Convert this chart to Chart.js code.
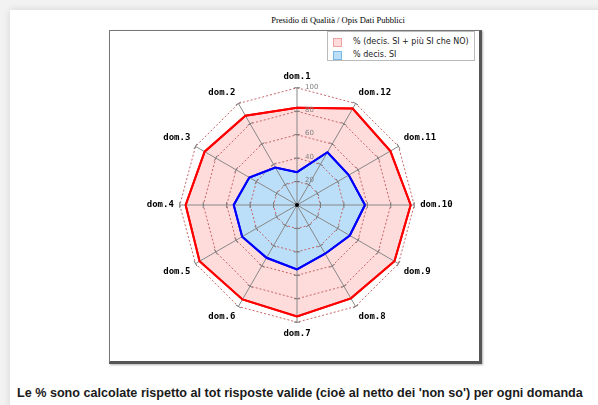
<!DOCTYPE html>
<html>
<head>
<meta charset="utf-8">
<script src="https://cdn.jsdelivr.net/npm/chart.js@4.4.0/dist/chart.umd.min.js"></script>
<style>
    html, body { margin: 0; padding: 0; }
    body {
        width: 598px; height: 405px; overflow: hidden; position: relative;
        background: #f2f2f2; font-family: 'DejaVu Sans', sans-serif;
    }
    #panel {
        position: absolute; left: 10px; top: 10px; width: 640px; height: 440px;
        background: #fff; box-shadow: 0 0 7px rgba(0, 0, 0, 0.13);
    }
    #title {
        position: absolute; left: 200px; width: 276px; top: 15px; text-align: center;
        font: 8.5px 'Liberation Serif', serif; color: #000; white-space: nowrap;
    }
    #frame {
        position: absolute; left: 109px; top: 30px; width: 369px; height: 330px;
        border: 1px solid #777; border-right: 3px solid #555; border-bottom: 3px solid #555;
        box-shadow: 1px 1px 2px rgba(0, 0, 0, 0.3); background: #fff;
    }
    #chartWrap { position: absolute; left: 112px; top: 72px; width: 370px; height: 268px; }
    #legend {
        position: absolute; left: 327px; top: 31px; width: 146px; height: 28px;
        border: 1px solid #bbb; background: #fff; font: 8px 'DejaVu Sans', sans-serif; color: #222;
    }
    .item { position: absolute; left: 5px; height: 10px; line-height: 10px; white-space: nowrap; }
    .swatch { position: absolute; left: 0; top: 1px; width: 7px; height: 7px; border: 1px solid; }
    .item span.txt { position: absolute; left: 20px; top: 0; }
    #note {
        position: absolute; left: 17px; top: 386px; white-space: nowrap; color: #1a1a1a;
        font: bold 12.6px 'Liberation Sans', Arial, sans-serif;
    }
</style>
</head>
<body>
<div id="panel"></div>
<div id="title">Presidio di Qualità / Opis Dati Pubblici</div>
<div id="frame"></div>
<div id="legend"></div>
<div id="chartWrap"><canvas id="radar"></canvas></div>
<div id="note">Le % sono calcolate rispetto al tot risposte valide (cioè al netto dei 'non so') per ogni domanda</div>

<script>
// categories in clockwise order starting from the top
const categories = ['dom.1', 'dom.12', 'dom.11', 'dom.10', 'dom.9', 'dom.8',
                    'dom.7', 'dom.6', 'dom.5', 'dom.4', 'dom.3', 'dom.2'];

const seriesLabels = ['% (decis. SI + più SI che NO)', '% decis. SI'];

const positiveTotal = [83, 95, 92, 97, 96, 92, 95, 93, 96, 95, 91, 88];
const decisSi = [28, 52, 51, 58, 52, 48, 55, 52, 54, 54, 47, 37];

const tickValues = [20, 40, 60, 80, 100];

const lineColors = ['#ff0000', '#0000ff'];
const fillColors = ['#ffdcdc', '#bbdff9'];
const swatchBorders = ['#f0a0a0', '#7ab8e8'];

// Legend box
const legend = document.getElementById('legend');
seriesLabels.forEach((label, i) => {
    const itemHTML = `
        <div class="item" style="top:${5 + i * 13}px">
            <span class="swatch" style="background:${fillColors[i]};border-color:${swatchBorders[i]}"></span>
            <span class="txt">${label}</span>
        </div>`;
    legend.insertAdjacentHTML('beforeend', itemHTML);
});

// Draws the little cross ticks on the spokes, the value labels and
// puts the series outlines back on top of the grid
const radarExtras = {
    id: 'radarExtras',
    afterDraw(chart) {
        const ctx = chart.ctx;
        const r = chart.scales.r;
        ctx.save();
        ctx.strokeStyle = '#7a7a7a';
        ctx.lineWidth = 1;
        for (let i = 0; i < categories.length; i++) {
            const a = r.getIndexAngle(i) - Math.PI / 2;
            const px = -Math.sin(a), py = Math.cos(a);
            tickValues.forEach(v => {
                const p = r.getPointPositionForValue(i, v);
                ctx.beginPath();
                ctx.moveTo(p.x - px * 3, p.y - py * 3);
                ctx.lineTo(p.x + px * 3, p.y + py * 3);
                ctx.stroke();
            });
        }

        chart.data.datasets.forEach((ds, i) => {
            chart.getDatasetMeta(i).dataset.draw(ctx, chart.chartArea);
        });

        ctx.fillStyle = '#808080';
        ctx.font = '7px "DejaVu Sans"';
        ctx.textAlign = 'left';
        ctx.textBaseline = 'middle';
        tickValues.forEach(v => {
            const p = r.getPointPositionForValue(0, v);
            ctx.fillText(String(v), p.x + 8, p.y - 1);
        });

        ctx.fillStyle = '#000';
        ctx.beginPath();
        ctx.arc(r.xCenter, r.yCenter, 2, 0, Math.PI * 2);
        ctx.fill();
        ctx.restore();
    }
};

const ctx = document.getElementById('radar').getContext('2d');
new Chart(ctx, {
    type: 'radar',
    data: {
        labels: categories,
        datasets: [{
            label: seriesLabels[0],
            data: positiveTotal,
            borderColor: lineColors[0],
            backgroundColor: fillColors[0],
            borderWidth: 2,
            fill: true,
            pointRadius: 0,
            order: 2
        }, {
            label: seriesLabels[1],
            data: decisSi,
            borderColor: lineColors[1],
            backgroundColor: fillColors[1],
            borderWidth: 2,
            fill: true,
            pointRadius: 0,
            order: 1
        }]
    },
    options: {
        responsive: true,
        maintainAspectRatio: false,
        animation: false,
        layout: { padding: 0 },
        plugins: {
            legend: { display: false },
            tooltip: { enabled: false }
        },
        scales: {
            r: {
                min: 0,
                max: 100,
                ticks: {
                    stepSize: 20,
                    display: false,
                    z: 1
                },
                grid: {
                    circular: false,
                    color: '#c86464',
                    lineWidth: 1,
                    z: 1
                },
                border: {
                    dash: [2, 2]
                },
                angleLines: {
                    color: '#888888',
                    lineWidth: 1
                },
                pointLabels: {
                    padding: 6,
                    color: '#000',
                    font: { family: 'DejaVu Sans Mono', size: 9, weight: 'bold', lineHeight: 1.2 }
                }
            }
        }
    },
    plugins: [radarExtras]
});
</script>
</body>
</html>
